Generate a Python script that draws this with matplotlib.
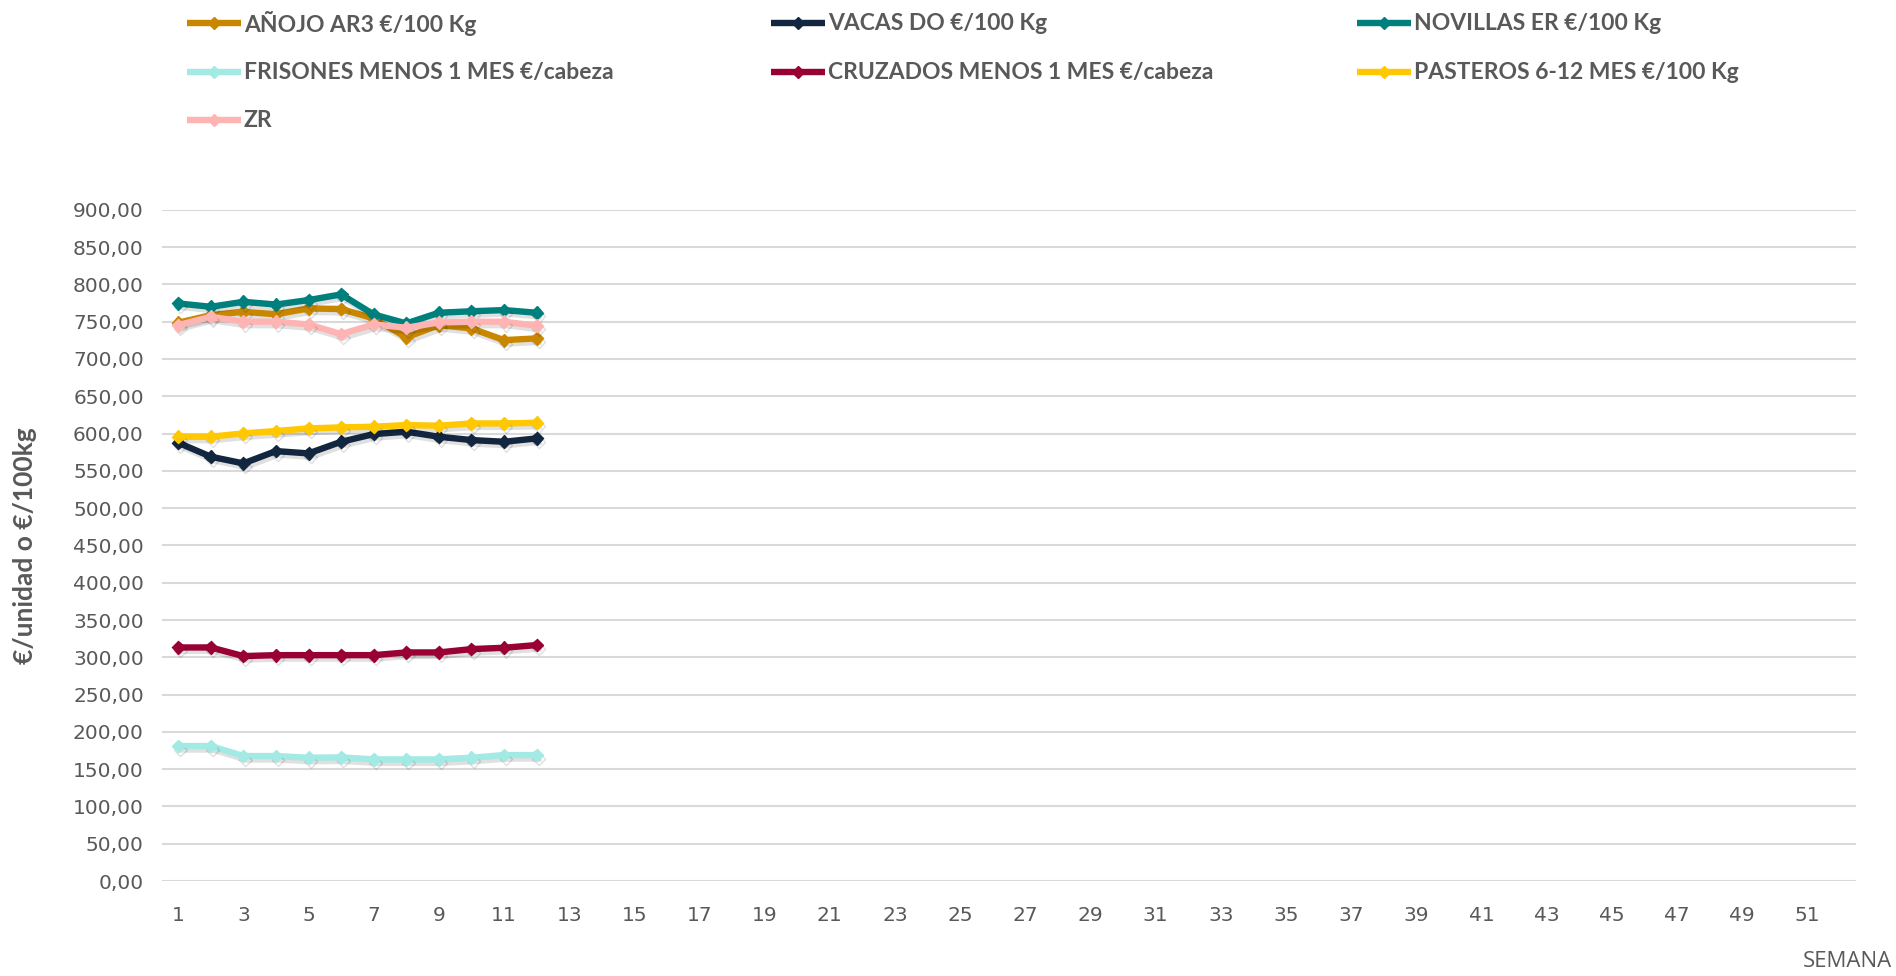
import matplotlib
matplotlib.use("Agg")
import matplotlib.pyplot as plt
import matplotlib.patheffects as pe
from matplotlib.lines import Line2D

# weeks with data so far
weeks = list(range(1, 13))

anojo = [748.6, 758.8, 763.3, 760.0, 767.8, 767.0, 754.4, 729.0, 745.4, 741.0, 725.3, 727.6]
vacas = [587.7, 569.0, 560.0, 576.5, 573.4, 589.0, 599.3, 602.5, 595.8, 591.3, 589.0, 593.5]
novillas = [774.5, 770.0, 776.7, 773.0, 779.0, 786.6, 759.7, 747.7, 762.0, 764.0, 765.6, 762.0]
frisones = [181.0, 181.0, 167.6, 167.6, 165.3, 165.8, 163.1, 163.1, 163.1, 165.3, 168.9, 168.9]
cruzados = [313.2, 313.2, 301.6, 302.9, 302.9, 302.9, 302.9, 306.5, 306.5, 311.0, 312.8, 316.4]
pasteros = [595.8, 595.8, 600.2, 603.4, 606.9, 608.3, 609.2, 611.4, 610.5, 613.6, 613.6, 614.5]
zr = [745.4, 756.6, 750.0, 750.0, 746.3, 733.4, 746.3, 741.9, 749.0, 750.0, 750.0, 744.5]

series = [
    ("AÑOJO AR3 €/100 Kg", anojo, "#C98700"),
    ("VACAS DO €/100 Kg", vacas, "#13263F"),
    ("NOVILLAS ER €/100 Kg", novillas, "#00807C"),
    ("FRISONES MENOS 1 MES €/cabeza", frisones, "#A3E9E4"),
    ("CRUZADOS MENOS 1 MES €/cabeza", cruzados, "#990034"),
    ("PASTEROS 6-12 MES €/100 Kg", pasteros, "#FFC800"),
    ("ZR", zr, "#FFB4B4"),
]

all_weeks = list(range(1, 53))
y_ticks = list(range(0, 901, 50))

grey = "#595959"

fig = plt.figure(figsize=(18.96, 9.76), dpi=100)
ax = fig.add_axes([0.0854, 0.0973, 0.8936, 0.6877])

shadow = [pe.SimpleLineShadow(offset=(1.5, -2.5), shadow_color="#000000", alpha=0.12), pe.Normal()]
for name, vals, col in series:
    ax.plot(weeks, vals, color=col, lw=4.6, marker="D", ms=6.5,
            solid_joinstyle="round", path_effects=shadow)

ax.set_xlim(0.5, 52.5)
ax.set_ylim(0, 900)
ax.set_xticks(all_weeks[::2])
ax.set_xticklabels([str(w) for w in all_weeks[::2]])
ax.set_yticks(y_ticks)
ax.set_yticklabels([f"{v},00" for v in y_ticks])
ax.grid(axis="y", color="#D9D9D9", lw=1.5)
ax.set_axisbelow(True)
for s in ax.spines.values():
    s.set_visible(False)
ax.tick_params(length=0, labelsize=14.5, labelcolor=grey)
ax.tick_params(axis="x", pad=18)
ax.tick_params(axis="y", pad=13)
for lbl in ax.get_yticklabels() + ax.get_xticklabels():
    lbl.set_fontfamily("DejaVu Sans")

ax.set_ylabel("€/unidad o €/100kg", fontsize=19, fontweight="bold", color=grey,
              family="Lato", labelpad=26)
fig.text(0.998, 0.004, "SEMANA", ha="right", va="bottom", fontsize=16,
         color=grey, family="Open Sans")

# legend laid out like the original, row by row
col_x = [0.0986, 0.4067, 0.7157]
row_y = [0.976, 0.926, 0.877]
for i, (name, vals, col) in enumerate(series):
    x0 = col_x[i % 3]
    y0 = row_y[i // 3]
    fig.add_artist(Line2D([x0, x0 + 0.0285], [y0, y0], transform=fig.transFigure,
                          color=col, lw=4.6, solid_capstyle="butt"))
    fig.add_artist(Line2D([x0 + 0.0142], [y0], transform=fig.transFigure,
                          color=col, marker="D", ms=6.5))
    fig.text(x0 + 0.030, y0, name, ha="left", va="center", fontsize=16.5,
             fontweight="bold", color=grey, family="Lato")

fig.savefig("out.png", dpi=100)
